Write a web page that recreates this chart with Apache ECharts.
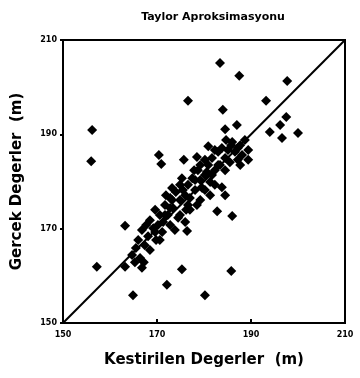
<!DOCTYPE html>
<html><head><meta charset="utf-8">
<script src="https://cdn.jsdelivr.net/npm/echarts@6/dist/echarts.min.js"></script>
<style>html,body{margin:0;padding:0;background:#fff}#c{width:360px;height:378px}</style>
</head><body><div id="c"></div>
<script>
var titleText = "Taylor Aproksimasyonu";
var xName = "Kestirilen Degerler  (m)";
var yName = "Gercek Degerler  (m)";
var tickValues = [150, 170, 190, 210];
var estimated = [
176.6,156.2,156.0,170.4,170.9,175.7,180.9,178.5,183.4,187.5,197.7,193.2,184.0,184.5,187.0,197.5,196.2,194.0,196.6,200.0,
185.8,187.7,187.2,189.4,163.2,157.2,164.9,172.1,175.3,176.4,180.2,185.8,182.8,186.0,183.8,184.5,163.2,166.8,
164.7,165.5,166.4,166.0,167.4,168.1,166.8,168.5,169.2,169.8,168.5,170.2,170.6,171.1,167.2,165.3,
171.7,172.3,172.8,173.4,174.0,174.5,174.9,175.5,176.2,176.6,177.0,177.5,178.1,178.5,172.8,173.8,176.0,171.3,
179.2,178.7,179.6,180.2,180.9,181.3,181.7,182.3,183.0,180.2,183.4,183.8,184.5,185.1,185.5,186.0,186.6,187.2,188.1,188.7,189.4,
182.3,181.3,180.6,179.2,187.7,
171.9,175.3,177.9,176.6,169.6,173.2,174.9,179.2,182.3,184.7,167.7,
169.6,171.7,173.2,176.0,178.1,180.2,183.0,184.5,177.0,170.6,174.9,172.8,181.7
];
var actual = [
197.1,190.9,184.3,185.6,183.7,184.6,187.5,185.2,205.1,202.4,201.3,197.1,195.2,191.1,192.0,193.7,192.0,190.5,189.2,190.3,
187.7,187.7,184.6,184.6,170.6,161.9,155.9,158.1,161.4,169.5,155.9,161.0,173.7,172.7,178.8,177.1,161.9,161.7,
164.4,165.9,163.8,167.6,166.5,168.4,169.7,165.5,170.1,167.6,171.8,170.8,172.9,169.3,162.9,162.9,
175.0,172.9,176.5,174.4,177.8,172.3,176.1,178.2,174.0,179.3,176.5,180.7,178.2,175.0,170.8,169.7,171.4,171.4,
180.3,182.4,178.6,181.4,183.5,179.9,185.0,182.4,186.3,184.6,183.5,187.1,185.0,186.7,184.1,188.4,186.3,187.1,185.6,188.8,186.7,
179.3,177.1,182.0,176.1,183.5,
177.1,180.7,182.4,175.0,174.0,178.6,172.9,183.5,186.7,188.8,170.8,
169.3,172.9,176.1,177.1,180.3,178.2,183.5,182.4,174.0,167.6,179.3,174.4,181.4
];
var identityLine = [[150,150],[210,210]];

var pts = estimated.map(function(v,i){return [v, actual[i]];});
var chart = echarts.init(document.getElementById('c'), null, {renderer:'canvas'});
var labelStyle = {color:'#000', fontFamily:'DejaVu Sans', fontWeight:'bold', fontSize:8};
var nameStyle = {fontFamily:'DejaVu Sans', fontWeight:'bold', fontSize:15, color:'#000'};
chart.setOption({
  animation:false,
  backgroundColor:'#fff',
  title:{text:titleText, left:208, top:7, textAlign:'center',
    textStyle:{fontFamily:'DejaVu Sans', fontWeight:'bold', fontSize:11, color:'#000'}},
  grid:{left:63, right:15, top:40, bottom:55, show:true, borderColor:'#000', borderWidth:2},
  xAxis:{type:'value', min:150, max:210, interval:20, name:xName, nameLocation:'middle', nameGap:30,
    nameTextStyle:nameStyle,
    axisLine:{show:true, lineStyle:{color:'#000', width:2}},
    axisTick:{show:true, inside:true, length:4, lineStyle:{color:'#000', width:2}},
    axisLabel:Object.assign({margin:8}, labelStyle),
    splitLine:{show:false}},
  yAxis:{type:'value', min:150, max:210, interval:20, name:yName, nameLocation:'middle', nameGap:38,
    nameTextStyle:nameStyle,
    axisLine:{show:true, lineStyle:{color:'#000', width:2}},
    axisTick:{show:true, inside:false, length:3, lineStyle:{color:'#000', width:2}},
    axisLabel:Object.assign({margin:6}, labelStyle),
    splitLine:{show:false}},
  series:[
    {type:'line', data:identityLine, showSymbol:false, symbol:'none', lineStyle:{color:'#000', width:2}, z:1},
    {type:'scatter', data:pts, symbol:'diamond', symbolSize:10, itemStyle:{color:'#000', opacity:1}, z:2}
  ]
});
</script></body></html>
